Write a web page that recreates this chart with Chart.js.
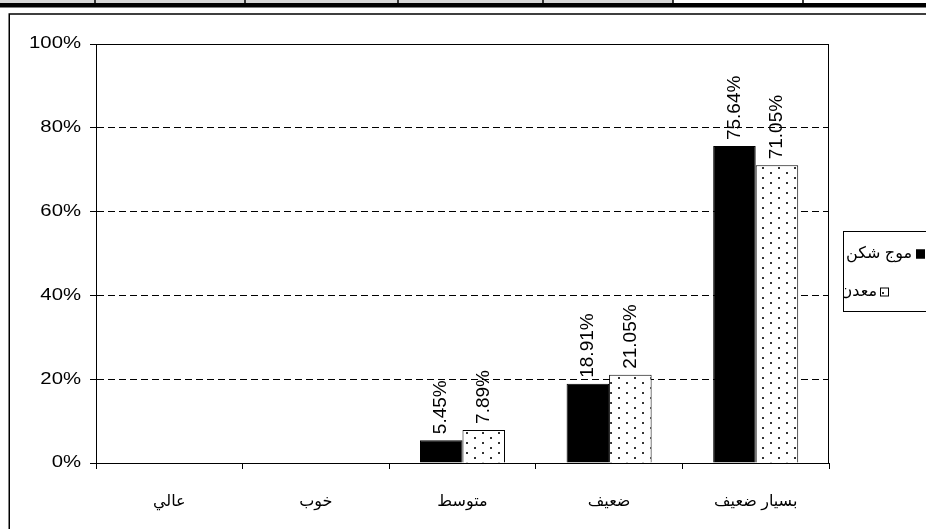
<!DOCTYPE html>
<html>
<head>
<meta charset="utf-8">
<script src="https://cdn.jsdelivr.net/npm/chart.js@4.4.1/dist/chart.umd.min.js"></script>
<style>
  html, body { margin: 0; padding: 0; background: #fff; }
  canvas { display: block; }
</style>
</head>
<body>
<canvas id="chart" width="926" height="529"></canvas>
<script>
// categories run left to right as in the picture
const categories = ['عالي', 'خوب', 'متوسط', 'ضعيف', 'بسيار ضعيف'];
const seriesNames = ['موج شکن', 'معدن'];
const breakwaterValues = [0, 0, 5.45, 18.91, 75.64];
const mineValues = [0, 0, 7.89, 21.05, 71.05];
const yTicks = [0, 20, 40, 60, 80, 100];

const FONT = "'Liberation Sans', 'DejaVu Sans', sans-serif";

// Excel-like sparse dot fill
function dotPattern() {
  const c = document.createElement('canvas');
  c.width = 16; c.height = 10;
  const g = c.getContext('2d');
  g.fillStyle = '#fff';
  g.fillRect(0, 0, 16, 10);
  g.fillStyle = '#333';
  g.fillRect(2, 2, 2, 2);
  g.fillRect(10, 7, 2, 2);
  return g.createPattern(c, 'repeat');
}
const dots = dotPattern();

// page decoration: table strip at the top and the outer chart frame
const pageFrame = {
  id: 'pageFrame',
  beforeDraw(chart) {
    const ctx = chart.ctx;
    ctx.save();
    ctx.fillStyle = '#fff';
    ctx.fillRect(0, 0, chart.width, chart.height);
    ctx.fillStyle = '#d6d6d6';
    ctx.fillRect(0, 0, 673, 3);
    ctx.fillStyle = '#000';
    [95, 245, 398, 543, 673, 803].forEach(x => ctx.fillRect(x - 0.75, 0, 1.5, 3));
    ctx.fillRect(0, 3, chart.width, 4.5);
    ctx.lineWidth = 1.5;
    ctx.strokeStyle = '#000';
    ctx.strokeRect(9.25, 14, 1000, 600);
    ctx.restore();
  }
};

// plot border, y labels (drawn a bit wide like the source), value labels
const extras = {
  id: 'extras',
  afterDatasetsDraw(chart) {
    const ctx = chart.ctx;
    const a = chart.chartArea;
    ctx.save();
    ctx.strokeStyle = '#000';
    ctx.lineWidth = 1;
    ctx.strokeRect(a.left + 0.5, a.top + 0.5, a.right - a.left - 1, a.bottom - a.top);

    ctx.fillStyle = '#000';
    ctx.font = '19px ' + FONT;
    ctx.textAlign = 'left';
    ctx.textBaseline = 'middle';
    chart.data.datasets.forEach((ds, i) => {
      chart.getDatasetMeta(i).data.forEach((bar, j) => {
        const v = ds.data[j];
        if (!v) return;
        ctx.save();
        ctx.translate(bar.x, bar.y - 6);
        ctx.rotate(-Math.PI / 2);
        ctx.fillText(v.toFixed(2) + '%', 0, 0);
        ctx.restore();
      });
    });

    const ys = chart.scales.y;
    ctx.font = '16px ' + FONT;
    ctx.textAlign = 'right';
    ys.ticks.forEach(t => {
      ctx.save();
      ctx.translate(81, ys.getPixelForValue(t.value));
      ctx.scale(1.27, 1);
      ctx.fillText(t.value + '%', 0, 0);
      ctx.restore();
    });
    ctx.restore();
  },
  afterDraw(chart) {
    // legend box, partly outside the window on the right
    const ctx = chart.ctx;
    const box = { x: 843, y: 231, w: 120, h: 80 };
    ctx.save();
    ctx.strokeStyle = '#000';
    ctx.lineWidth = 1;
    ctx.strokeRect(box.x + 0.5, box.y + 0.5, box.w, box.h);
    ctx.beginPath();
    ctx.rect(box.x + 1, box.y + 1, box.w, box.h - 1);
    ctx.clip();
    const entries = [
      { textEnd: 912, mark: 916, y: 254 },
      { textEnd: 877, mark: 880, y: 292 }
    ];
    ctx.font = '16px ' + FONT;
    ctx.textAlign = 'right';
    ctx.textBaseline = 'middle';
    chart.data.datasets.forEach((ds, i) => {
      const e = entries[i];
      ctx.fillStyle = '#000';
      ctx.fillText(ds.label, e.textEnd, e.y);
      ctx.fillStyle = ds.backgroundColor;
      ctx.fillRect(e.mark, e.y - 4.5, 9, 9);
      ctx.strokeRect(e.mark + 0.5, e.y - 4, 8, 8);
    });
    ctx.restore();
  }
};

new Chart(document.getElementById('chart'), {
  type: 'bar',
  data: {
    labels: categories,
    datasets: [
      {
        label: seriesNames[0],
        data: breakwaterValues,
        backgroundColor: '#000',
        borderColor: '#000',
        borderWidth: 1
      },
      {
        label: seriesNames[1],
        data: mineValues,
        backgroundColor: dots,
        borderColor: '#000',
        borderWidth: 1
      }
    ]
  },
  options: {
    responsive: false,
    animation: false,
    categoryPercentage: 0.58,
    barPercentage: 1,
    layout: { padding: { left: 0, top: 44, right: 97, bottom: 0 } },
    plugins: {
      legend: { display: false },
      tooltip: { enabled: false }
    },
    scales: {
      x: {
        grid: {
          drawOnChartArea: false,
          drawTicks: true,
          tickLength: 6,
          tickColor: '#000',
          offset: true
        },
        border: { color: '#000', width: 1 },
        ticks: {
          color: '#000',
          font: { family: FONT, size: 16 },
          padding: 23,
          maxRotation: 0,
          autoSkip: false
        },
        afterFit: s => { s.height = 66; }
      },
      y: {
        min: 0,
        max: 100,
        afterBuildTicks: s => { s.ticks = yTicks.map(v => ({ value: v })); },
        grid: {
          color: '#000',
          lineWidth: 1,
          tickLength: 6,
          tickColor: '#000',
          tickBorderDash: []
        },
        border: { color: '#000', width: 1, dash: [7, 4] },
        ticks: { display: false },
        afterFit: s => { s.width = 96; }
      }
    }
  },
  plugins: [pageFrame, extras]
});
</script>
</body>
</html>
